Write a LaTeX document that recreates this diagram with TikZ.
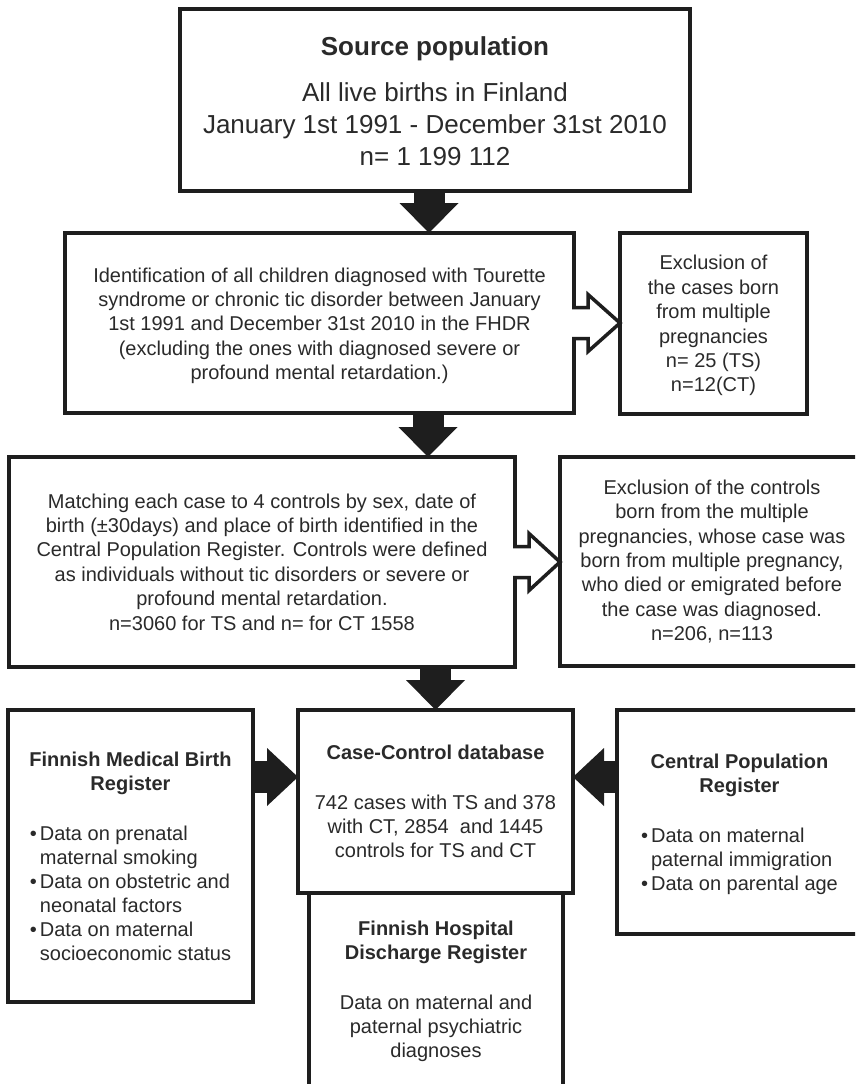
\documentclass[tikz,border=0pt]{standalone}
\usepackage{fontspec}
\setmainfont{Liberation Sans}
\usetikzlibrary{arrows.meta,calc}
\definecolor{ink}{HTML}{1E1E1E}
\definecolor{txt}{HTML}{2A2A2A}
\tikzset{
  box/.style={draw=ink, line width=4pt, rectangle, inner sep=0pt, outer sep=0pt,
    align=center, text=txt, font=\fontsize{20}{24.4}\selectfont},
  bigbox/.style={box, font=\fontsize{26}{32}\selectfont},
  botbox/.style={box, font=\fontsize{20}{24}\selectfont},
  fatv/.style={draw=ink, line width=31pt,
    -{Triangle[width=59pt,length=30pt,line width=0pt]}},
  fath/.style={draw=ink, line width=32pt,
    -{Triangle[width=58pt,length=31pt,line width=0pt]}},
  hollow/.style={draw=ink, line width=3.5pt, line join=miter},
}
\begin{document}
\begin{tikzpicture}[x=1pt,y=-1pt]
\useasboundingbox (0,0) rectangle (855,1084);
\clip (0,0) rectangle (855,1084);
\fill[white] (0,0) rectangle (855,1084);

\node[bigbox, minimum width=510pt, minimum height=182pt] (b1) at (435,100)
  {\textbf{\rule{0pt}{22pt}Source population}\\[14pt]All live births in Finland\\January 1st 1991 - December 31st 2010\\n= 1 199 112};

\node[box, minimum width=509pt, minimum height=180pt] (b2) at (319.5,323)
  {\rule{0pt}{20pt}Identification of all children diagnosed with Tourette\\syndrome or chronic tic disorder between January\\1st 1991 and December 31st 2010 in the FHDR\\(excluding the ones with diagnosed severe or\\profound mental retardation.)};

\node[box, minimum width=187pt, minimum height=181pt] (b3) at (713.5,323.5)
  {\rule{0pt}{19pt}Exclusion of\\the cases born\\from multiple\\pregnancies\\n= 25 (TS)\\n=12(CT)};

\node[box, minimum width=506pt, minimum height=210pt] (b4) at (262,562)
  {Matching each case to 4 controls by sex, date of\\birth (±30days) and place of birth identified in the\\Central Population Register. Controls were defined\\as individuals without tic disorders or severe or\\profound mental retardation.\\n=3060 for TS and n= for CT 1558};

\node[box, minimum width=304pt, minimum height=209pt] (b5) at (712,561.5)
  {Exclusion of the controls\\born from the multiple\\pregnancies, whose case was\\born from multiple pregnancy,\\who died or emigrated before\\the case was diagnosed.\\n=206, n=113};

\node[botbox, minimum width=245pt, minimum height=292pt] (b6) at (130.5,856)
  {\textbf{\rule{0pt}{22.6pt}Finnish Medical Birth}\\\textbf{Register}\\[26pt]\begin{tabular}[t]{@{}l@{\hspace{3pt}}l@{}}•&Data on prenatal\\&maternal smoking\\•&Data on obstetric and\\&neonatal factors\\•&Data on maternal\\&socioeconomic status\end{tabular}};

\node[botbox, minimum width=254pt, minimum height=196pt] (fh) at (436,991)
  {\textbf{Finnish Hospital}\\\textbf{Discharge Register}\\[26pt]Data on maternal and\\paternal psychiatric\\diagnoses};

\node[botbox, minimum width=275pt, minimum height=183pt] (cc) at (435.5,801.5)
  {\textbf{Case-Control database}\\[26pt]742 cases with TS and 378\\with CT, 2854\ \ and 1445\\controls for TS and CT};

\node[botbox, minimum width=245pt, minimum height=224pt] (cpr) at (739.5,822)
  {\textbf{\rule{0pt}{22.6pt}Central Population}\\\textbf{Register}\\[26pt]\begin{tabular}[t]{@{}l@{\hspace{3pt}}l@{}}•&Data on maternal\\&paternal immigration\\•&Data on parental age\end{tabular}};

% solid vertical arrows
\coordinate (a1s) at ($(b1.south)+(-6,0)$);
\draw[fatv] (a1s) -- (a1s |- b2.north);
\coordinate (a2s) at ($(b2.south east)+(-146,0)$);
\draw[fatv] (a2s) -- (a2s |- b4.north);
\draw[fatv] (b4.south -| cc.north) -- (cc.north);

% solid horizontal arrows
\coordinate (a4s) at ($(b6.north east)+(0,67)$);
\draw[fath] (a4s) -- (a4s -| cc.west);
\coordinate (a5s) at ($(cpr.north west)+(0,67)$);
\draw[fath] (a5s) -- (a5s -| cc.east);

% hollow arrows
\coordinate (h1s) at (b2.east);
\coordinate (h1e) at (h1s -| b3.west);
\fill[white] ($(h1s)+(-3,-14)$) rectangle ($(h1s)+(3,14)$);
\draw[hollow] ($(h1s)+(-2,-15.5)$) -- ($(h1e)+(-32,-15.5)$) -- ($(h1e)+(-32,-28.5)$) -- (h1e)
  -- ($(h1e)+(-32,28.5)$) -- ($(h1e)+(-32,15.5)$) -- ($(h1s)+(-2,15.5)$);

\coordinate (h2s) at (b4.east);
\coordinate (h2e) at (h2s -| b5.west);
\fill[white] ($(h2s)+(-3,-14)$) rectangle ($(h2s)+(3,14)$);
\draw[hollow] ($(h2s)+(-2,-15.5)$) -- ($(h2e)+(-31,-15.5)$) -- ($(h2e)+(-31,-28.5)$) -- (h2e)
  -- ($(h2e)+(-31,28.5)$) -- ($(h2e)+(-31,15.5)$) -- ($(h2s)+(-2,15.5)$);
\end{tikzpicture}
\end{document}
